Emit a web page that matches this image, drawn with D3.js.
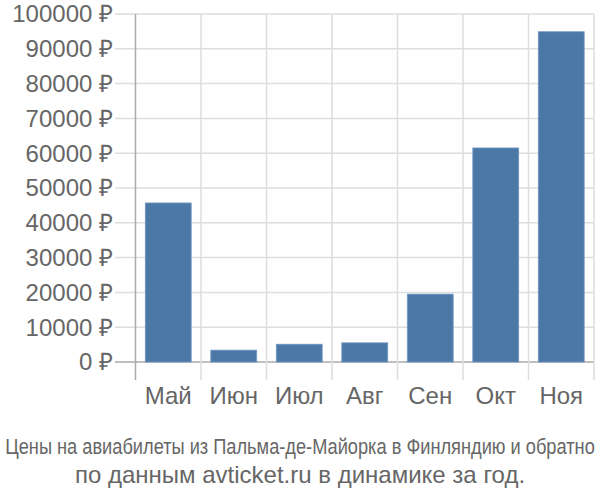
<!DOCTYPE html>
<html><head><meta charset="utf-8">
<script src="https://cdn.jsdelivr.net/npm/d3@7"></script>
<style>body{margin:0;background:#fff}svg{display:block}</style>
</head><body>
<svg id="c" width="600" height="500"></svg>
<script>
const categories = ["Май","Июн","Июл","Авг","Сен","Окт","Ноя"];
const prices = [45700, 3400, 5100, 5500, 19500, 61500, 94900];
const yTicks = [0,10000,20000,30000,40000,50000,60000,70000,80000,90000,100000];
const titleLines = ["Цены на авиабилеты из Пальма-де-Майорка в Финляндию и обратно","по данным avticket.ru в динамике за год."];

(function(){
const svg = d3.select("#c");
const pLeft = 135.5, pRight = 594, pTop = 14, zero = 362, pBottom = 380;
const x = d3.scaleBand().domain(categories).range([pLeft, pRight]).paddingInner(0.3).paddingOuter(0.15);
const y = d3.scaleLinear().domain([0,100000]).range([zero, pTop]);
const grid = "#dddddd", txt = "#666666", font = "'Liberation Sans', Arial, sans-serif";

svg.append("g").selectAll("line").data(yTicks).join("line")
  .attr("x1", 115).attr("x2", pRight).attr("y1", d=>y(d)).attr("y2", d=>y(d))
  .attr("stroke", d=> d===0 ? "#aaaaaa" : grid).attr("stroke-width", 1.5);
const bounds = d3.range(categories.length+1).map(i => pLeft + i*(pRight-pLeft)/categories.length);
svg.append("g").selectAll("line").data(bounds.slice(1)).join("line")
  .attr("x1", d=>d).attr("x2", d=>d).attr("y1", pTop).attr("y2", pBottom)
  .attr("stroke", grid).attr("stroke-width", 1.5);
svg.append("line").attr("x1", pLeft).attr("x2", pLeft).attr("y1", pTop).attr("y2", pBottom)
  .attr("stroke", "#aaaaaa").attr("stroke-width", 1.5);

svg.append("g").selectAll("rect").data(prices).join("rect")
  .attr("x", (d,i)=>x(categories[i])).attr("width", x.bandwidth())
  .attr("y", d=>y(d)).attr("height", d=>zero - y(d))
  .attr("fill", "#4c78a8").attr("stroke", "#6f94bf").attr("stroke-width", 0.8);

svg.append("g").selectAll("text").data(yTicks).join("text")
  .attr("x", 113).attr("y", d=>y(d)).attr("dy", "0.35em").attr("text-anchor","end")
  .attr("font-family", font).attr("font-size", 24).attr("fill", txt)
  .text(d=> d + " ₽");

svg.append("g").selectAll("text").data(categories).join("text")
  .attr("x", d=>x(d)+x.bandwidth()/2).attr("y", 396).attr("dy","0.35em").attr("text-anchor","middle")
  .attr("font-family", font).attr("font-size", 24).attr("fill", txt).text(d=>d);

const t1 = svg.append("text").attr("x", 0).attr("y", 0).attr("text-anchor","middle")
  .attr("font-family", font).attr("font-size", 22).attr("fill", txt).text(titleLines[0]);
const w1 = t1.node().getComputedTextLength() || 592;
const sx = Math.min(1, 590 / w1);
t1.attr("transform", "translate(300,454) scale(" + sx + ",1)");

svg.append("text").attr("x", 300).attr("y", 483).attr("text-anchor","middle")
  .attr("font-family", font).attr("font-size", 24).attr("fill", txt).text(titleLines[1]);
})();
</script>
</body></html>
